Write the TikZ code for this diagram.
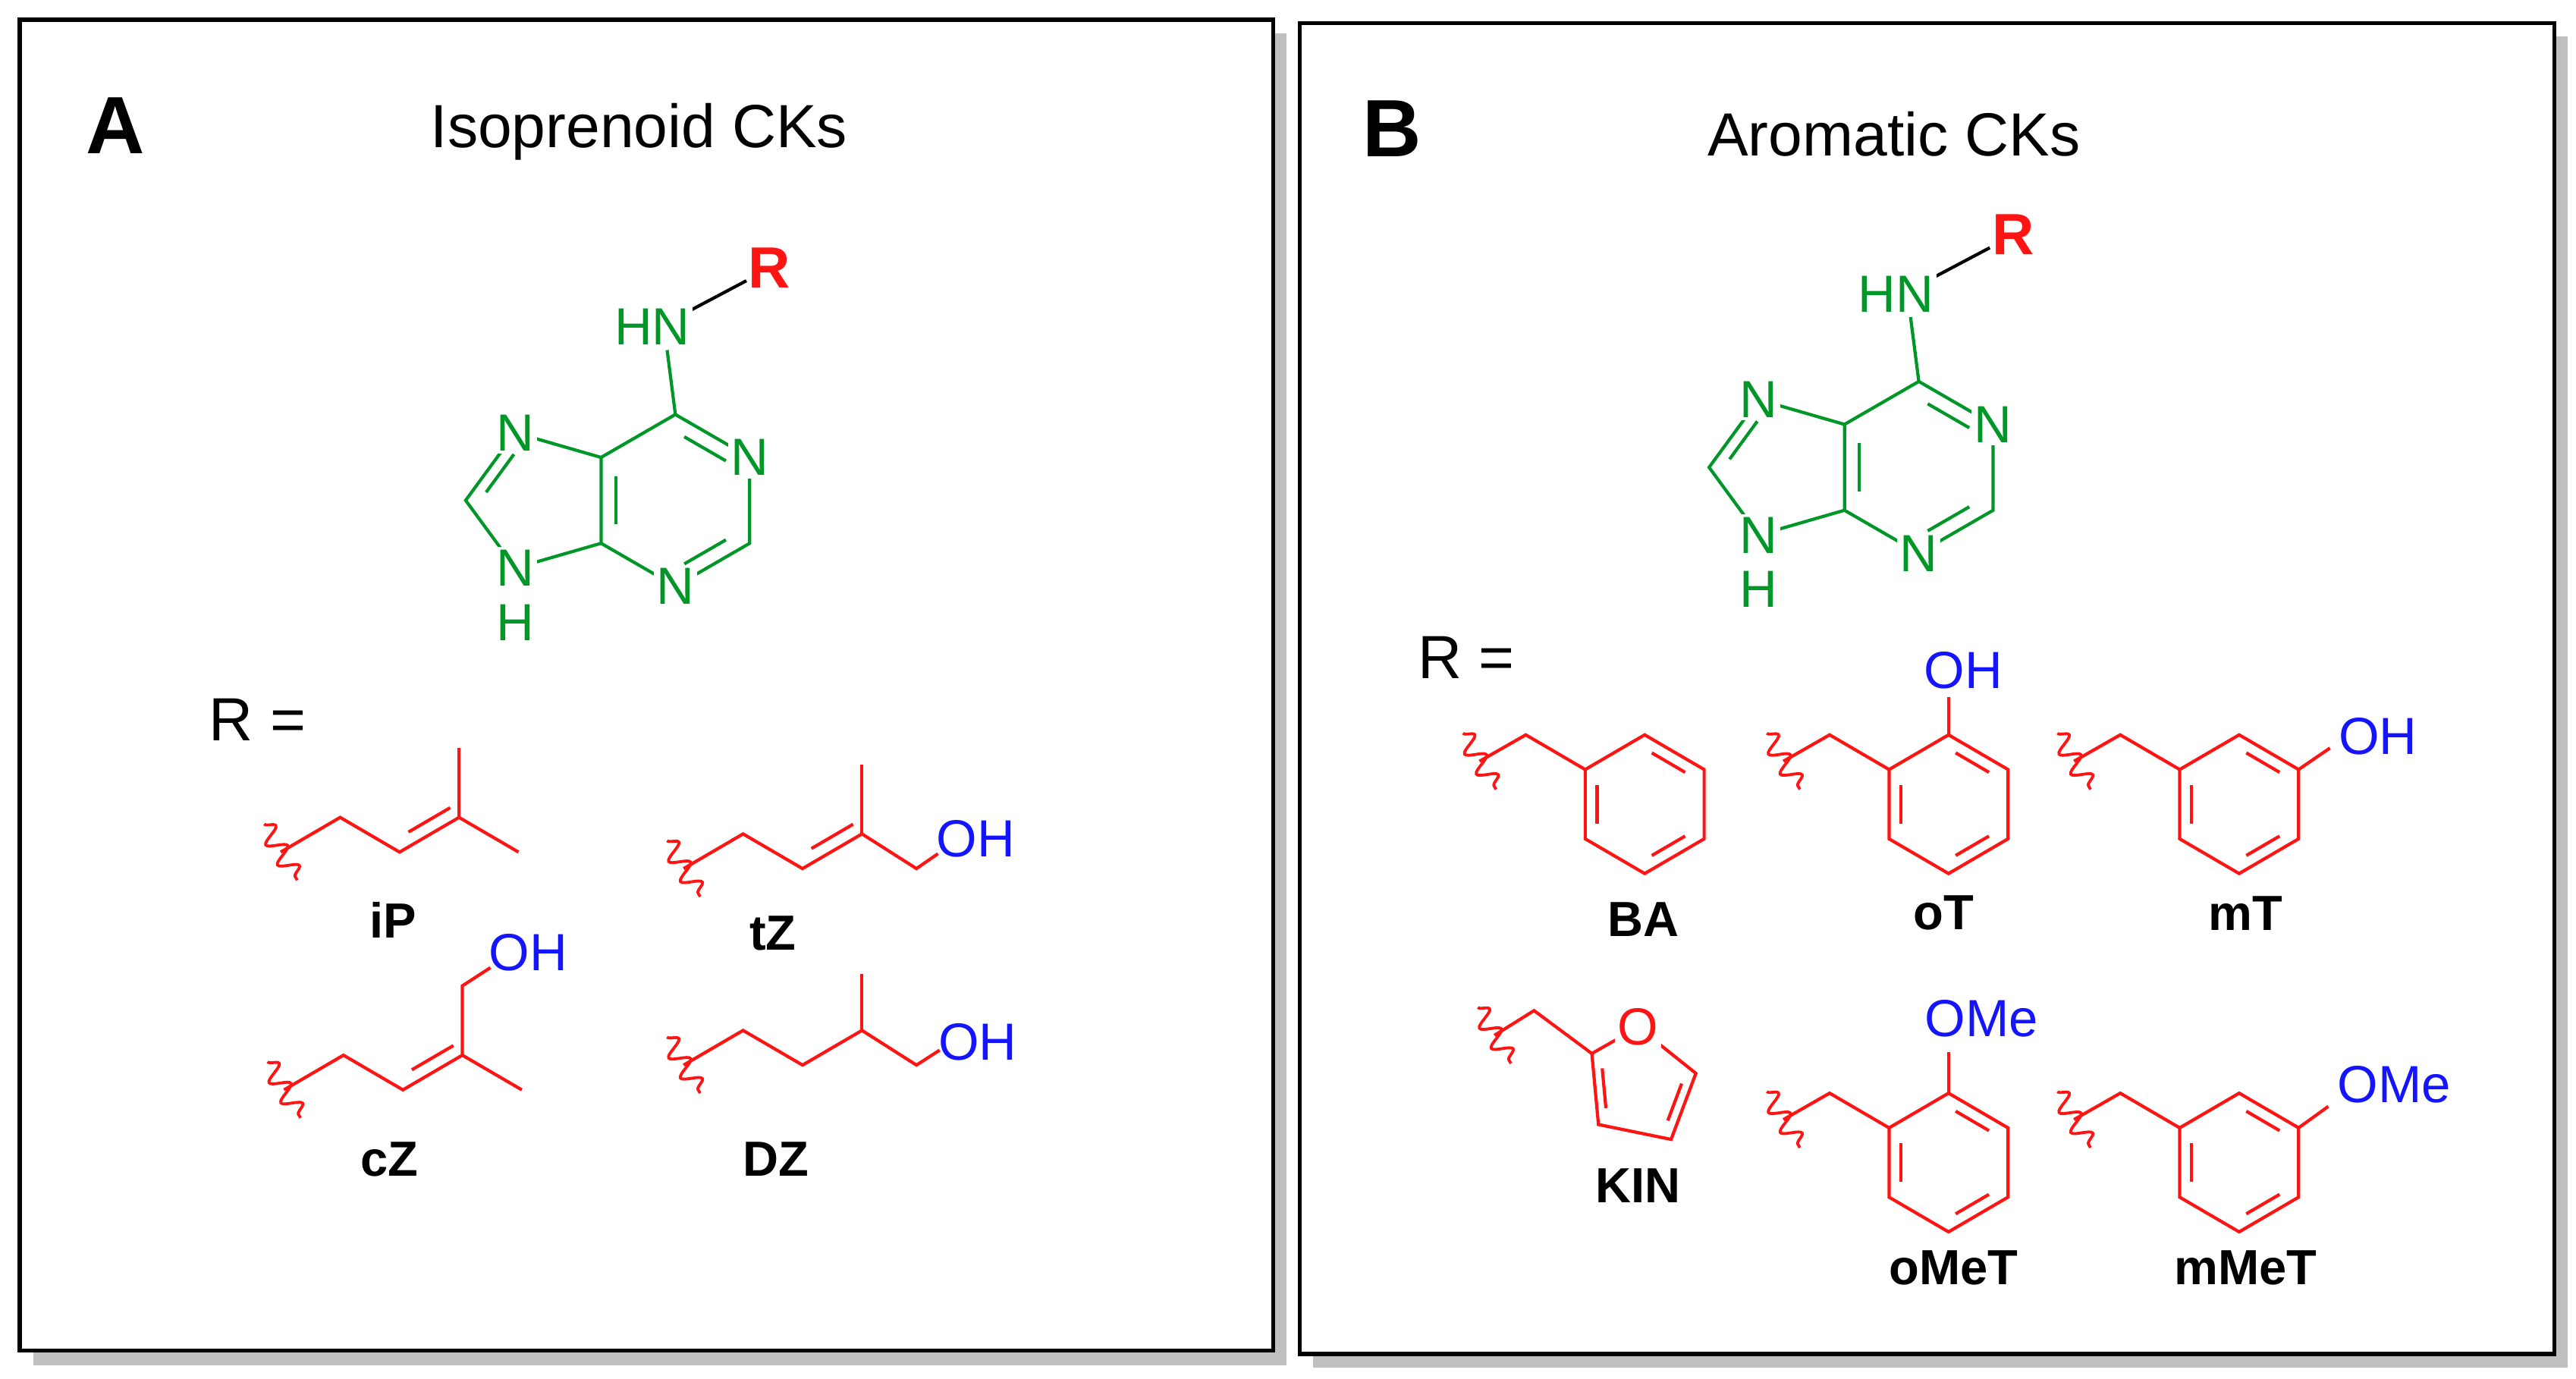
\documentclass[tikz,border=0pt]{standalone}
\usepackage{fontspec}
\setmainfont{Liberation Sans}
\usetikzlibrary{calc,decorations.pathmorphing}
\definecolor{cgreen}{RGB}{0,150,40}
\definecolor{cred}{RGB}{255,20,20}
\definecolor{cblue}{RGB}{20,20,255}
\tikzset{
 bond/.style={line width=0.55pt},
 atom/.style={fill=white,inner sep=0.5pt,font=\fontsize{9}{10}\selectfont},
 lbl/.style={font=\bfseries\fontsize{8.5}{10}\selectfont},
 wav/.style={line width=0.5pt,decorate,decoration={snake,segment length=4pt,amplitude=1.6pt}},
}
\newcommand{\dbl}[4][cred]{\draw[bond,#1] ($(#2)!0.8!($(#3)!0.15!(#4)$)$) -- ($(#2)!0.8!($(#3)!0.85!(#4)$)$);}
\newcommand{\hexring}[3]{%
 \coordinate (#3c) at ({#1},{#2});
 \coordinate (#3t) at ({#1},{#2-42});
 \coordinate (#3ur) at ({#1+36},{#2-21});
 \coordinate (#3lr) at ({#1+36},{#2+21});
 \coordinate (#3b) at ({#1},{#2+42});
 \coordinate (#3ll) at ({#1-36},{#2+21});
 \coordinate (#3ul) at ({#1-36},{#2-21});
 \draw[bond,cred] (#3t)--(#3ur)--(#3lr)--(#3b)--(#3ll)--(#3ul)--cycle;
 \dbl{#3c}{#3t}{#3ur}\dbl{#3c}{#3ul}{#3ll}\dbl{#3c}{#3lr}{#3b}
 \coordinate (#3m) at ({#1-72},{#2-42});
 \coordinate (#3a) at ({#1-100},{#2-26});
 \draw[bond,cred] (#3ul)--(#3m)--(#3a);
 \draw[wav,cred] ($(#3a)+(-10,-17)$) -- ($(#3a)+(10,17)$);
}
\newcommand{\purine}[2]{%
 \begin{scope}[shift={(#1,#2)}]
 \coordinate (pc) at (409,303);
 \coordinate (c6) at (409,251);
 \coordinate (n1) at (454,277);
 \coordinate (c2) at (454,329);
 \coordinate (n3) at (409,355);
 \coordinate (c4) at (364,329);
 \coordinate (c5) at (364,277);
 \coordinate (n7) at (312,262);
 \coordinate (c8) at (282,303);
 \coordinate (n9) at (312,344);
 \coordinate (qc) at (326,303);
 \draw[bond,cgreen] (c6)--(n1)--(c2)--(n3)--(c4)--(c5)--cycle;
 \draw[bond,cgreen] (c5)--(n7)--(c8)--(n9)--(c4);
 \dbl[cgreen]{pc}{c6}{n1}\dbl[cgreen]{pc}{c2}{n3}\dbl[cgreen]{pc}{c4}{c5}\dbl[cgreen]{qc}{n7}{c8}
 \draw[bond,cgreen] (c6)--(404,212);
 \draw[bond] (418,188)--(452,170);
 \node[atom,text=cgreen] at (n1) {N};
 \node[atom,text=cgreen] at (n3) {N};
 \node[atom,text=cgreen] at (n7) {N};
 \node[atom,text=cgreen] at (n9) {N};
 \node[font=\fontsize{9}{10}\selectfont,text=cgreen] at (312,377) {H};
 \node[atom,text=cgreen] at (395,198) {HN};
 \node[text=cred,font=\bfseries\fontsize{10}{12}\selectfont] at (466,162) {R};
 \end{scope}
}
\begin{document}
\begin{tikzpicture}[x=0.01cm,y=-0.01cm]
\useasboundingbox (0,0) rectangle (1560,835);
% panels
\fill[black!25] (20,20) rectangle (779,827);
\draw[line width=0.7pt,fill=white] (12,12) rectangle (771,818);
\fill[black!25] (795,22) rectangle (1555,828);
\draw[line width=0.7pt,fill=white] (787,14) rectangle (1547,820);
\node[font=\bfseries\fontsize{14}{16}\selectfont] (lA) at (70,76) {A};
\node[font=\bfseries\fontsize{14}{16}\selectfont] (lB) at (843,78) {B};
\node[font=\fontsize{10.5}{12}\selectfont] (tA) at (387,80) {Isoprenoid CKs};
\node[font=\fontsize{10.5}{12}\selectfont] (tB) at (1147,81) {Aromatic CKs};
\purine{0}{0}
\purine{753}{-20}
\node[font=\fontsize{10.5}{12}\selectfont] (rA) at (156,436) {R =};
\node[font=\fontsize{10.5}{12}\selectfont] (rB) at (888,398) {R =};
% iP
\draw[bond,cred] (170,516)--(206,495)--(242,516)--(278,495)--(314,516);
\draw[bond,cred] (278,495)--(278,453);
\draw[bond,cred] ($(242,516)!0.15!(278,495)+(0,-9)$)--($(242,516)!0.85!(278,495)+(0,-9)$);
\draw[wav,cred] (160,499)--(180,533);
\node[lbl] (iP) at (238,557) {iP};
% tZ
\draw[bond,cred] (414,526)--(450,505)--(486,526)--(522,505)--(555,526)--(568,517);
\draw[bond,cred] (522,505)--(522,463);
\draw[bond,cred] ($(486,526)!0.15!(522,505)+(0,-9)$)--($(486,526)!0.85!(522,505)+(0,-9)$);
\draw[wav,cred] (404,509)--(424,543);
\node[font=\fontsize{9}{10}\selectfont,text=cblue] (ohtZ) at (591,508) {OH};
\node[lbl] (tZ) at (468,565) {tZ};
% cZ
\draw[bond,cred] (172,660)--(208,639)--(244,660)--(280,639)--(316,660);
\draw[bond,cred] (280,639)--(280,597)--(297,586);
\draw[bond,cred] ($(244,660)!0.15!(280,639)+(0,-9)$)--($(244,660)!0.85!(280,639)+(0,-9)$);
\draw[wav,cred] (162,643)--(182,677);
\node[font=\fontsize{9}{10}\selectfont,text=cblue] (ohcZ) at (320,577) {OH};
\node[lbl] (cZ) at (236,702) {cZ};
% DZ
\draw[bond,cred] (414,645)--(450,624)--(486,645)--(522,624)--(555,645)--(569,636);
\draw[bond,cred] (522,624)--(522,590);
\draw[wav,cred] (404,628)--(424,662);
\node[font=\fontsize{9}{10}\selectfont,text=cblue] (ohDZ) at (592,631) {OH};
\node[lbl] (DZ) at (470,702) {DZ};
% aromatic
\hexring{996}{487}{ba}
\node[lbl] (BA) at (995,557) {BA};
\hexring{1180}{487}{ot}
\draw[bond,cred] (ott)--(1180,422);
\node[font=\fontsize{9}{10}\selectfont,text=cblue] (ohoT) at (1189,406) {OH};
\node[lbl] (oT) at (1177,553) {oT};
\hexring{1356}{487}{mt}
\draw[bond,cred] (mtur)--(1411,453);
\node[font=\fontsize{9}{10}\selectfont,text=cblue] (ohmT) at (1440,446) {OH};
\node[lbl] (mT) at (1360,553) {mT};
\hexring{1180}{704}{om}
\draw[bond,cred] (omt)--(1180,637);
\node[font=\fontsize{9}{10}\selectfont,text=cblue] (ohoM) at (1200,617) {OMe};
\node[lbl] (oMeT) at (1183,768) {oMeT};
\hexring{1356}{704}{mm}
\draw[bond,cred] (mmur)--(1410,670);
\node[font=\fontsize{9}{10}\selectfont,text=cblue] (ohmM) at (1450,657) {OMe};
\node[lbl] (mMeT) at (1360,768) {mMeT};
% furan
\coordinate (f2) at (964,638);
\coordinate (fo) at (992,622);
\coordinate (f5) at (1027,650);
\coordinate (f4) at (1012,690);
\coordinate (f3) at (968,681);
\coordinate (fc) at (993,657);
\draw[bond,cred] (f2)--(fo)--(f5)--(f4)--(f3)--cycle;
\dbl{fc}{f2}{f3}\dbl{fc}{f5}{f4}
\draw[bond,cred] (f2)--(929,612)--(905,627);
\draw[wav,cred] (895,610)--(915,644);
\node[atom,text=cred] (fO) at (fo) {O};
\node[lbl] (KIN) at (992,718) {KIN};
\end{tikzpicture}
\end{document}
